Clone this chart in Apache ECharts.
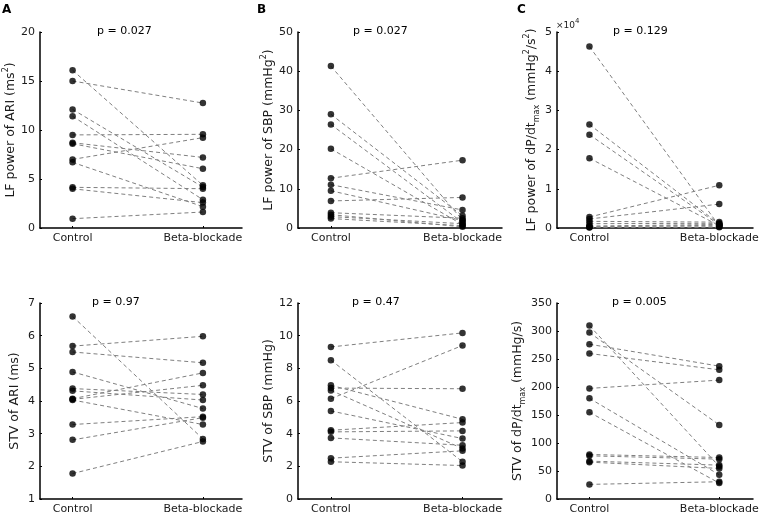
<!DOCTYPE html>
<html>
<head>
<meta charset="utf-8">
<script src="https://cdn.jsdelivr.net/npm/echarts@6/dist/echarts.min.js"></script>
<style>html,body{margin:0;padding:0;background:#fff}#c{width:763px;height:518px}</style>
</head>
<body>
<div id="c"></div>
<script>
// ---- data ----
const groups = ['Control', 'Beta-blockade'];

const lfAriControl = [16.1, 15.0, 12.1, 11.4, 9.5, 8.7, 8.6, 7.0, 6.7, 4.15, 4.0, 0.95];
const lfAriBeta    = [4.35, 12.75, 4.18, 2.89, 9.56, 7.2, 6.05, 9.22, 2.18, 4.01, 2.59, 1.63];

const lfSbpControl = [41.3, 29.0, 26.4, 20.2, 12.7, 11.05, 9.5, 6.9, 3.9, 3.4, 2.9, 2.4];
const lfSbpBeta    = [2.0, 3.1, 1.4, 0.85, 17.3, 4.6, 1.9, 7.8, 2.5, 0.3, 1.1, 0.6];

const lfDpControl = [46300, 26400, 23800, 17800, 2800, 2300, 1700, 1100, 500, 300, 200, 100];
const lfDpBeta    = [500, 1000, 800, 600, 10900, 6100, 1500, 1200, 900, 700, 300, 200];

const stvAriControl = [6.59, 5.68, 5.50, 4.89, 4.38, 4.31, 4.07, 4.05, 4.03, 3.28, 2.81, 1.78];
const stvAriBeta    = [2.84, 5.98, 5.17, 3.77, 4.20, 4.03, 4.86, 4.48, 3.28, 3.52, 3.49, 2.76];

const stvSbpControl = [9.31, 8.50, 6.96, 6.79, 6.65, 6.14, 5.39, 4.21, 4.11, 3.74, 2.50, 2.28];
const stvSbpBeta    = [10.17, 2.28, 4.88, 6.75, 3.09, 9.40, 3.70, 4.68, 4.17, 3.29, 2.95, 2.05];

const stvDpControl = [309.6, 297.2, 276.4, 259.8, 197.5, 179.7, 154.8, 79.5, 77.1, 67.6, 65.8, 26.1];
const stvDpBeta    = [58.1, 132.3, 237.2, 230.7, 212.3, 43.3, 28.5, 74.1, 71.2, 60.5, 54.6, 30.8];

const pValues = ['p = 0.027', 'p = 0.027', 'p = 0.129', 'p = 0.97', 'p = 0.47', 'p = 0.005'];
const panelLetters = ['A', 'B', 'C'];

// ---- layout / build ----
const FONT = 'DejaVu Sans';
const TXT = '#1a1a1a';
const panels = [
  {c: lfAriControl, b: lfAriBeta, min: 0, max: 20, iv: 5,
   name: '{a|LF power of ARI (ms}{sup|2}{a|)}', left: 40, top: 32, w: 202, xmax: 2.3, gap: 19, fmt: null},
  {c: lfSbpControl, b: lfSbpBeta, min: 0, max: 50, iv: 10,
   name: '{a|LF power of SBP (mmHg}{sup|2}{a|)}', left: 298, top: 32, w: 204, xmax: 2.3, gap: 19, fmt: null},
  {c: lfDpControl, b: lfDpBeta, min: 0, max: 50000, iv: 10000,
   name: '{a|LF power of dP/dt}{sub|max}{a| (mmHg}{sup|2}{a|/s}{sup|2}{a|)}', left: 557, top: 32, w: 196, xmax: 2.26, gap: 14, fmt: v => String(v / 10000)},
  {c: stvAriControl, b: stvAriBeta, min: 1, max: 7, iv: 1,
   name: '{a|STV of ARI (ms)}', left: 40, top: 303, w: 202, xmax: 2.3, gap: 16, fmt: null},
  {c: stvSbpControl, b: stvSbpBeta, min: 0, max: 12, iv: 2,
   name: '{a|STV of SBP (mmHg)}', left: 298, top: 303, w: 204, xmax: 2.3, gap: 16, fmt: null},
  {c: stvDpControl, b: stvDpBeta, min: 0, max: 350, iv: 50,
   name: '{a|STV of dP/dt}{sub|max}{a| (mmHg/s)}', left: 557, top: 303, w: 196, xmax: 2.26, gap: 28, fmt: null}
];
const H = 196;

const grid = [], xAxis = [], yAxis = [], series = [], graphic = [];
const rich = {
  a: {fontFamily: FONT, fontSize: 12.5, color: TXT, lineHeight: 18},
  sup: {fontFamily: FONT, fontSize: 8, color: TXT, verticalAlign: 'top', lineHeight: 18},
  sub: {fontFamily: FONT, fontSize: 8, color: TXT, verticalAlign: 'bottom', lineHeight: 18}
};

panels.forEach((p, i) => {
  grid.push({left: p.left, top: p.top, width: p.w, height: H, containLabel: false});
  xAxis.push({
    type: 'value', gridIndex: i, min: 0.75, max: p.xmax,
    axisLine: {show: true, lineStyle: {color: '#000', width: 1.5}},
    axisTick: {show: true, inside: true, length: 2, customValues: [1, 2], lineStyle: {color: '#000'}},
    axisLabel: {show: true, customValues: [1, 2], formatter: v => groups[Math.round(v) - 1],
      fontFamily: FONT, fontSize: 11, color: TXT, margin: 5},
    splitLine: {show: false}
  });
  yAxis.push({
    type: 'value', gridIndex: i, min: p.min, max: p.max, interval: p.iv,
    name: p.name, nameLocation: 'middle', nameGap: p.gap, nameRotate: 90,
    nameTextStyle: {rich: rich},
    axisLine: {show: true, lineStyle: {color: '#000', width: 1.5}},
    axisTick: {show: true, inside: true, length: 2, lineStyle: {color: '#000'}},
    axisLabel: {fontFamily: FONT, fontSize: 11, color: TXT, margin: 5,
      formatter: p.fmt ? p.fmt : (v => String(v))},
    splitLine: {show: false}
  });
  p.c.forEach((cv, k) => {
    series.push({
      type: 'line', xAxisIndex: i, yAxisIndex: i, data: [[1, cv], [2, p.b[k]]],
      showSymbol: false, symbol: 'none', silent: true, animation: false, z: 2,
      lineStyle: {color: '#7f7f7f', width: 1, type: [4, 3]}
    });
  });
  const pts = [];
  p.c.forEach(v => pts.push([1, v]));
  p.b.forEach(v => pts.push([2, v]));
  series.push({
    type: 'scatter', xAxisIndex: i, yAxisIndex: i, data: pts, symbol: 'circle', symbolSize: 6.5,
    itemStyle: {color: '#000'}, animation: false, z: 5
  });
  const centers = [127, 383, 643, 122, 382, 642];
  graphic.push({type: 'text', left: centers[i] - 30, top: p.top - 6,
    style: {text: pValues[i], fontFamily: FONT, fontSize: 11, fill: '#000', width: 60, align: 'center'}});
});

graphic.push({type: 'text', x: 2, y: 4, style: {text: 'A', fontFamily: FONT, fontSize: 12, fontWeight: 'bold', fill: '#000'}});
graphic.push({type: 'text', x: 257, y: 4, style: {text: 'B', fontFamily: FONT, fontSize: 12, fontWeight: 'bold', fill: '#000'}});
graphic.push({type: 'text', x: 517, y: 4, style: {text: 'C', fontFamily: FONT, fontSize: 12, fontWeight: 'bold', fill: '#000'}});
graphic.push({type: 'text', x: 556, y: 18, style: {
  text: '{x|×10}{s|4}',
  rich: {x: {fontFamily: FONT, fontSize: 9, fill: TXT, lineHeight: 12, verticalAlign: 'bottom'},
         s: {fontFamily: FONT, fontSize: 7, fill: TXT, lineHeight: 12, verticalAlign: 'top'}}}});

const chart = echarts.init(document.getElementById('c'), null, {renderer: 'canvas'});
chart.setOption({
  animation: false,
  backgroundColor: '#fff',
  grid: grid, xAxis: xAxis, yAxis: yAxis, series: series, graphic: graphic
});
</script>
</body>
</html>
